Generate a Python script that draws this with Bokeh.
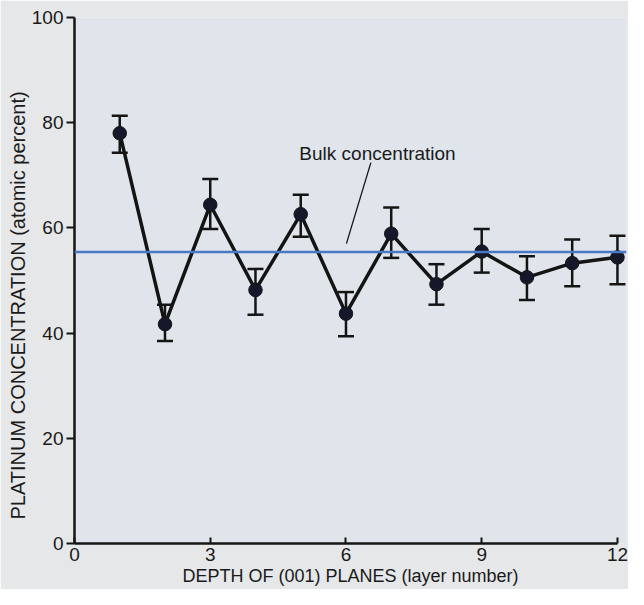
from bokeh.plotting import figure
from bokeh.models import (ColumnDataSource, Whisker, TeeHead, Span, Label,
                          FixedTicker, Range1d, Title)
from bokeh.embed import file_html
from bokeh.resources import INLINE

# ---- data ----
layers = [1, 2, 3, 4, 5, 6, 7, 8, 9, 10, 11, 12]
pt_conc = [78.0, 41.7, 64.4, 48.2, 62.6, 43.7, 58.9, 49.3, 55.5, 50.6, 53.3, 54.4]
err_upper = [81.3, 45.4, 69.3, 52.2, 66.3, 47.8, 63.9, 53.1, 59.8, 54.6, 57.8, 58.5]
err_lower = [74.3, 38.5, 59.8, 43.5, 58.3, 39.4, 54.3, 45.4, 51.5, 46.3, 48.9, 49.3]
bulk_conc = 55.4
x_ticks = [0, 3, 6, 9, 12]
y_ticks = [0, 20, 40, 60, 80, 100]

FONT = "Liberation Sans"
INK = "#141414"

src = ColumnDataSource(dict(x=layers, y=pt_conc, upper=err_upper, lower=err_lower))

p = figure(width=628, height=589, output_backend="svg", toolbar_location=None,
           x_range=Range1d(0, 12.2), y_range=Range1d(0, 100),
           min_border_left=74, min_border_right=2, min_border_top=17,
           min_border_bottom=46)

p.background_fill_color = "#dfe5eb"
p.border_fill_color = "#e5e7e9"
p.outline_line_color = None
p.grid.visible = False

# axes
for ax in (p.xaxis[0], p.yaxis[0]):
    ax.axis_line_width = 2.5
    ax.axis_line_color = INK
    ax.major_tick_line_width = 2
    ax.major_tick_line_color = INK
    ax.minor_tick_line_color = None
    ax.major_label_text_font = FONT
    ax.major_label_text_font_size = "19px"
    ax.major_label_text_color = "#1a1a1a"

p.xaxis.ticker = FixedTicker(ticks=x_ticks)
p.xaxis.bounds = (0, 12)
p.xaxis.major_tick_in = 6
p.xaxis.major_tick_out = 0
p.xaxis.major_label_standoff = 4

p.yaxis.ticker = FixedTicker(ticks=y_ticks)
p.yaxis.major_tick_in = 0
p.yaxis.major_tick_out = 8
p.yaxis.major_label_standoff = 3

# axis titles
p.add_layout(Title(text="DEPTH OF (001) PLANES (layer number)", align="center",
                   text_font=FONT, text_font_size="18px", text_font_style="normal",
                   text_color="#1a1a1a", standoff=0), "below")
p.add_layout(Title(text="PLATINUM CONCENTRATION (atomic percent)", align="left",
                   text_font=FONT, text_font_size="20px", text_font_style="normal",
                   text_color="#1a1a1a", offset=24, standoff=0), "left")

# bulk concentration line
p.add_layout(Span(location=bulk_conc, dimension="width", line_color="#4a78c4",
                  line_width=2.5))

# error bars
p.add_layout(Whisker(source=src, base="x", upper="upper", lower="lower",
                     line_width=2.5, line_color=INK,
                     upper_head=TeeHead(size=16, line_width=2.5, line_color=INK),
                     lower_head=TeeHead(size=16, line_width=2.5, line_color=INK)))

# data line and markers
p.line("x", "y", source=src, line_width=3.5, line_color=INK)
p.scatter("x", "y", source=src, size=13.5, fill_color="#15182a", line_color=INK)

# annotation
p.segment(x0=[6.55], y0=[72.4], x1=[6.01], y1=[57.0], line_color=INK,
          line_width=1.3)
p.add_layout(Label(x=4.97, y=74.05, text="Bulk concentration", text_font=FONT,
                   text_font_size="19px", text_align="left", text_baseline="middle",
                   text_color="#1a1a1a"))

open("out.html", "w").write(file_html(p, INLINE))
